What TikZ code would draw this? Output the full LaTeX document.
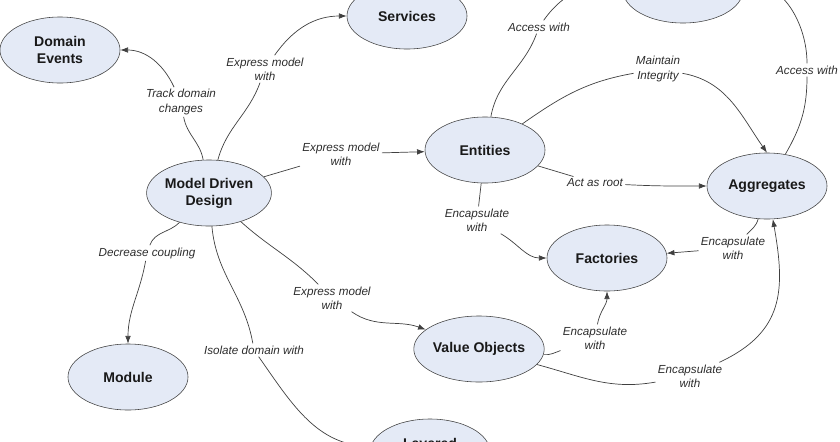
\documentclass[tikz,border=0pt]{standalone}
\usepackage{fontspec}
\setmainfont{Liberation Sans}
\usetikzlibrary{shapes.geometric, arrows.meta}
\definecolor{conceptfill}{RGB}{228,234,246}
\definecolor{linegrey}{RGB}{64,64,64}
\definecolor{tagtext}{RGB}{45,45,45}
\tikzstyle{concept} = [ellipse, minimum width=3cm, minimum height=1.65cm, inner sep=0pt, text centered, align=center, draw=linegrey, fill=conceptfill, text=black!90, font=\fontsize{10}{12}\selectfont\bfseries]
\tikzstyle{tag} = [align=center, inner sep=1.5pt, text=tagtext, font=\fontsize{8.3}{10}\selectfont\itshape]
\tikzstyle{arrow} = [line width=0.5pt, draw=linegrey, -{Latex[length=5.5pt,width=4pt]}]

\begin{document}
\begin{tikzpicture}[x=0.025cm, y=-0.025cm]
\useasboundingbox (0,0) rectangle (840,441);
\clip (0,0) rectangle (840,441);
% concepts
\node (mdd) [concept] at (209,193) {Model Driven\\Design};
\node (events) [concept] at (60,50) {Domain\\Events};
\node (services) [concept] at (407,16) {Services};
\node (repo) [concept] at (683,-10) {};
\node (entities) [concept] at (485,150) {Entities};
\node (aggr) [concept] at (767,186) {Aggregates};
\node (factories) [concept] at (607,258) {Factories};
\node (values) [concept] at (479,349) {Value Objects};
\node (module) [concept] at (128,377) {Module};
\node (layered) [concept] at (430,452) {Layered\\Architecture};
% labels
\node (trackdomain) [tag] at (181,102) {Track domain\\changes};
\node (exprservices) [tag] at (265,69) {Express model\\with};
\node (exprentities) [tag] at (341,154) {Express model\\with};
\node (decrease) [tag] at (147,253) {Decrease coupling};
\node (exprvalues) [tag] at (332,298) {Express model\\with};
\node (isolate) [tag] at (254,350) {Isolate domain with};
\node (accessent) [tag] at (539,27) {Access with};
\node (accessaggr) [tag] at (807,70) {Access with};
\node (maintain) [tag] at (658,69) {Maintain\\Integrity};
\node (actroot) [tag] at (595,183) {Act as root};
\node (encentfact) [tag] at (477,220) {Encapsulate\\with};
\node (encaggrfact) [tag] at (733,248) {Encapsulate\\with};
\node (encvalfact) [tag] at (595,338) {Encapsulate\\with};
\node (encvalaggr) [tag] at (690,376) {Encapsulate\\with};
% connectors
\draw [arrow] (mdd) to[out=100,in=-80] (trackdomain) to[out=115,in=0] (events);
\draw [arrow] (mdd) to[out=75,in=-110] (exprservices) to[out=55,in=180] (services);
\draw [arrow] (mdd) -- (exprentities) -- (entities);
\draw [arrow] (mdd) to[out=-135,in=70] (decrease) to[out=-100,in=90] (module);
\draw [arrow] (mdd) to[out=-42,in=135] (exprvalues) to[out=-35,in=160] (values);
\draw [arrow] (mdd) to[out=-85,in=100] (isolate) to[out=-55,in=175] (layered);
\draw [arrow] (entities) to[out=80,in=-110] (accessent) to[out=55,in=175] (repo);
\draw [arrow] (aggr) to[out=60,in=-90] (accessaggr) to[out=90,in=5] (repo);
\draw [arrow] (entities) to[out=35,in=190] (maintain) to[out=-10,in=125] (aggr.north);
\draw [arrow] (entities) -- (actroot) to[out=-3,in=180] (aggr);
\draw [arrow] (entities) -- (encentfact) to[out=-30,in=180] (factories);
\draw [arrow] (aggr) to[out=-105,in=45] (encaggrfact) -- (factories);
\draw [arrow] (values) to[out=-5,in=200] (encvalfact) to[out=80,in=-90] (factories);
\draw [arrow] (values) to[out=-15,in=190] (encvalaggr) to[out=25,in=-80,looseness=1.2] (aggr);
\end{tikzpicture}
\end{document}
